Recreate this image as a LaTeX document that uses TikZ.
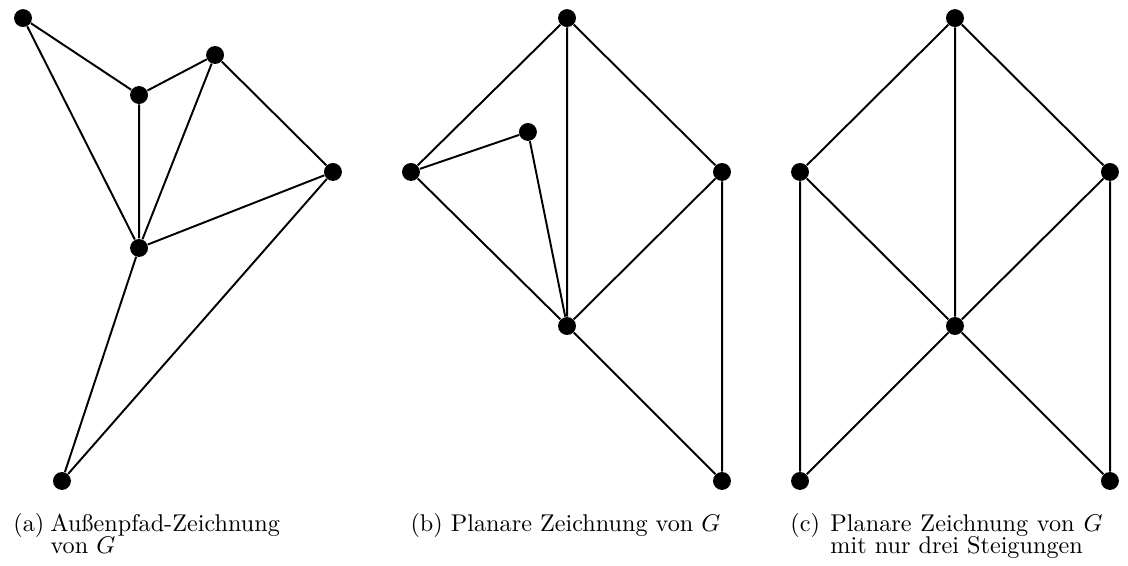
\documentclass[tikz,border=0pt]{standalone}
\usepackage{tikz}
\usepackage{amsmath}

\begin{document}
\begin{tikzpicture}[scale=2.243, vertex/.style={circle, fill=black, inner sep=0pt, minimum size=7.4pt}, edge/.style={line width=0.8pt}, caption/.style={inner sep=0pt, font=\fontsize{10pt}{9.2pt}\selectfont}]
                \useasboundingbox (0,0) rectangle (7.301,3.657);
                % (a) Aussenpfad-Zeichnung
                \node[vertex] (a1) at (0.149,3.540) {};
                \node[vertex] (a2) at (0.900,3.042) {};
                \node[vertex] (a3) at (1.392,3.301) {};
                \node[vertex] (a4) at (2.155,2.544) {};
                \node[vertex] (a5) at (0.900,2.052) {};
                \node[vertex] (a6) at (0.401,0.544) {};
                \draw[edge] (a1) -- (a2) (a1) -- (a5) (a2) -- (a3) (a2) -- (a5) (a3) -- (a5) (a3) -- (a4) (a5) -- (a4) (a5) -- (a6) (a6) -- (a4);
                % (b) planare Zeichnung
                \node[vertex] (b1) at (3.670,3.540) {};
                \node[vertex] (b2) at (2.660,2.544) {};
                \node[vertex] (b3) at (3.417,2.803) {};
                \node[vertex] (b4) at (4.673,2.544) {};
                \node[vertex] (b5) at (3.670,1.547) {};
                \node[vertex] (b6) at (4.673,0.544) {};
                \draw[edge] (b1) -- (b2) (b1) -- (b5) (b1) -- (b4) (b2) -- (b3) (b3) -- (b5) (b2) -- (b5) (b4) -- (b5) (b4) -- (b6) (b5) -- (b6);
                % (c) drei Steigungen
                \node[vertex] (c1) at (6.181,3.540) {};
                \node[vertex] (c2) at (5.178,2.544) {};
                \node[vertex] (c3) at (7.184,2.544) {};
                \node[vertex] (c4) at (6.181,1.547) {};
                \node[vertex] (c5) at (5.178,0.544) {};
                \node[vertex] (c6) at (7.184,0.544) {};
                \draw[edge] (c1) -- (c2) (c1) -- (c3) (c1) -- (c4) (c2) -- (c4) (c2) -- (c5) (c5) -- (c4) (c3) -- (c4) (c3) -- (c6) (c4) -- (c6);
                % captions
                \node[caption, anchor=base west] (capa) at (0.084,0.220) {(a)};
                \node[caption, anchor=base west, text width=100pt, align=left] (texta) at (0.324,0.220) {Außenpfad-Zeichnung\\von $G$};
                \node[caption, anchor=base west] (capb) at (2.654,0.220) {(b) Planare Zeichnung von $G$};
                \node[caption, anchor=base west] (capc) at (5.113,0.220) {(c)};
                \node[caption, anchor=base west, text width=112.4pt, align=justify] (textc) at (5.372,0.220) {Planare Zeichnung von $G$ mit nur drei Steigungen};
            \end{tikzpicture}
\end{document}
